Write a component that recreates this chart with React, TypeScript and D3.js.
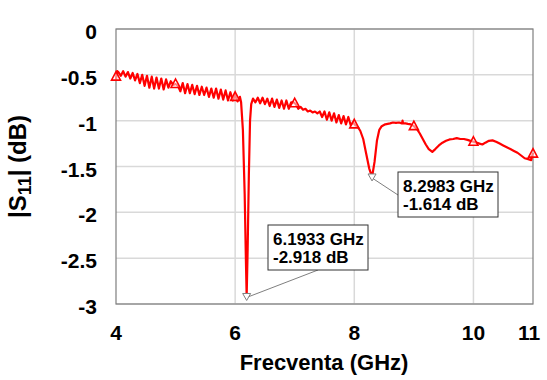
import React from "react";
import * as d3 from "d3";

const freqGHz: number[] = [
  4.0, 4.02, 4.04, 4.08, 4.12, 4.16, 4.2, 4.24, 4.28, 4.32, 4.36, 4.4, 4.44, 4.48, 4.52, 4.56, 4.6, 4.64, 4.68, 4.72, 4.76, 4.8, 4.84, 4.88, 4.92,
  4.96, 5.0, 5.04, 5.08, 5.12, 5.16, 5.2, 5.24, 5.28, 5.32, 5.36, 5.4, 5.44, 5.48, 5.52, 5.56, 5.6, 5.64, 5.68, 5.72, 5.76, 5.8, 5.84, 5.88, 5.92,
  5.96, 6.0, 6.04, 6.08, 6.1, 6.13, 6.16, 6.18, 6.1933, 6.21, 6.23, 6.25, 6.27, 6.3,
  6.34, 6.38, 6.42, 6.46, 6.5, 6.54, 6.58, 6.62, 6.66, 6.7, 6.74, 6.78, 6.82, 6.86, 6.9, 6.94, 6.98,
  7.02, 7.06, 7.1, 7.14, 7.18, 7.22, 7.26, 7.3, 7.34, 7.38, 7.42, 7.46, 7.5, 7.54, 7.58, 7.62, 7.66, 7.7, 7.74, 7.78, 7.82, 7.86, 7.9, 7.94, 7.98,
  8.02, 8.06, 8.1, 8.15, 8.2, 8.25, 8.2983, 8.34, 8.38, 8.42, 8.46, 8.52, 8.6, 8.65, 8.7, 8.75, 8.8, 8.81, 8.82, 8.86, 8.9, 8.95,
  9.0, 9.05, 9.1, 9.15, 9.2, 9.25, 9.31, 9.36, 9.42, 9.48, 9.54, 9.6, 9.66, 9.72, 9.78, 9.84, 9.9, 9.95,
  10.0, 10.05, 10.1, 10.15, 10.2, 10.26, 10.32, 10.38, 10.44, 10.5, 10.56, 10.62, 10.68, 10.74, 10.8, 10.86, 10.92, 10.97, 11.0,
];

const s11dB: number[] = [
  -0.55, -0.46, -0.47, -0.51, -0.46, -0.52, -0.47, -0.54, -0.48, -0.56, -0.49, -0.59, -0.5, -0.62, -0.51, -0.64, -0.52, -0.65, -0.53, -0.65, -0.54, -0.66, -0.55, -0.64, -0.57,
  -0.61, -0.6, -0.62, -0.68, -0.59, -0.7, -0.6, -0.7, -0.61, -0.71, -0.62, -0.72, -0.63, -0.72, -0.64, -0.74, -0.65, -0.75, -0.65, -0.76, -0.66, -0.77, -0.67, -0.78, -0.69,
  -0.78, -0.72, -0.79, -0.74, -0.8, -1.1, -1.8, -2.5, -2.918, -2.4, -1.6, -1.0, -0.82, -0.76,
  -0.8, -0.75, -0.81, -0.75, -0.82, -0.76, -0.84, -0.76, -0.85, -0.77, -0.86, -0.78, -0.87, -0.78, -0.87, -0.8, -0.8,
  -0.82, -0.87, -0.85, -0.88, -0.87, -0.9, -0.89, -0.91, -0.9, -0.92, -0.9, -0.96, -0.9, -0.99, -0.91, -1.0, -0.92, -1.02, -0.94, -1.03, -0.95, -1.04, -0.96, -1.05, -1.02,
  -1.05, -1.07, -1.11, -1.2, -1.36, -1.52, -1.614, -1.45, -1.22, -1.1, -1.06, -1.04, -1.03, -1.02, -1.025, -1.02, -1.03, -1.0, -1.03, -1.03, -1.035, -1.04,
  -1.06, -1.09, -1.14, -1.2, -1.26, -1.31, -1.34, -1.31, -1.27, -1.24, -1.22, -1.205, -1.2, -1.19, -1.2, -1.2, -1.21, -1.22,
  -1.23, -1.24, -1.25, -1.26, -1.24, -1.22, -1.215, -1.23, -1.25, -1.27, -1.29, -1.31, -1.33, -1.35, -1.38, -1.41, -1.42, -1.43, -1.35,
];

const markerFreq: number[] = [4, 5, 6, 7, 8, 9, 10, 11];
const markerDB: number[] = [-0.52, -0.6, -0.74, -0.81, -1.04, -1.06, -1.23, -1.36];

const xTicks: number[] = [4, 6, 8, 10, 11];
const yTicks: number[] = [0, -0.5, -1, -1.5, -2, -2.5, -3];
const xGrid: number[] = [6, 8, 10];

const annFreq: number[] = [6.1933, 8.2983];
const annDB: number[] = [-2.918, -1.614];
const annLine1: string[] = ["6.1933 GHz", "8.2983 GHz"];
const annLine2: string[] = ["-2.918 dB", "-1.614 dB"];

const W = 547;
const H = 380;
const L = 116;
const R = 533;
const T = 29;
const B = 304;

export default function App() {
  const x = d3.scaleLinear().domain([4, 11]).range([L, R]);
  const y = d3.scaleLinear().domain([-3, 0]).range([B, T]);
  const pts: [number, number][] = freqGHz.map((f, i) => [f, s11dB[i]]);
  const line = d3
    .line<[number, number]>()
    .x((d) => x(d[0]))
    .y((d) => y(d[1]));

  const boxes = [
    { bx: 268, by: 225, lx: 318, ly: 270 },
    { bx: 398, by: 172, lx: 398, ly: 195 },
  ];
  const font = "Arial, 'Liberation Sans', sans-serif";

  return (
    <svg
      width={W}
      height={H}
      style={{ position: "absolute", left: 0, top: 0, background: "#fff" }}
      fontFamily={font}
    >
      <rect x={0} y={0} width={W} height={H} fill="#fff" />
      {yTicks.map((t) => (
        <line key={"gy" + t} x1={L} x2={R} y1={y(t)} y2={y(t)} stroke="#d9d9d9" strokeWidth={1.5} />
      ))}
      {xGrid.map((t) => (
        <line key={"gx" + t} x1={x(t)} x2={x(t)} y1={T} y2={B} stroke="#d9d9d9" strokeWidth={1.5} />
      ))}
      <rect x={L} y={T} width={R - L} height={B - T} fill="none" stroke="#7f7f7f" strokeWidth={1.2} />

      <path d={line(pts) || ""} fill="none" stroke="#ff0000" strokeWidth={2.2} strokeLinejoin="round" />

      {markerFreq.map((f, i) => {
        const cx = x(f);
        const cy = y(markerDB[i]);
        return (
          <path
            key={"m" + f}
            d={`M${cx},${cy - 5} L${cx + 4.5},${cy + 3.5} L${cx - 4.5},${cy + 3.5} Z`}
            fill="#fff"
            fillOpacity={0.5}
            stroke="#ff0000"
            strokeWidth={1.6}
          />
        );
      })}

      {annFreq.map((f, i) => {
        const cx = x(f);
        const cy = y(annDB[i]);
        const b = boxes[i];
        return (
          <g key={"a" + i}>
            <line x1={b.lx} y1={b.ly} x2={cx} y2={cy + 1} stroke="#7f7f7f" strokeWidth={1} />
            <path
              d={`M${cx},${cy + 4} L${cx + 4},${cy - 3} L${cx - 4},${cy - 3} Z`}
              fill="#fff"
              stroke="#7f7f7f"
              strokeWidth={1}
            />
            <rect x={b.bx} y={b.by} width={100} height={45} fill="#fff" stroke="#333" strokeWidth={1} />
            <text x={b.bx + 5} y={b.by + 20} fontSize={17} fontWeight="bold" fill="#000">
              {annLine1[i]}
            </text>
            <text x={b.bx + 5} y={b.by + 38} fontSize={17} fontWeight="bold" fill="#000">
              {annLine2[i]}
            </text>
          </g>
        );
      })}

      {yTicks.map((t) => (
        <text key={"ty" + t} x={97} y={y(t) + 10} textAnchor="end" fontSize={21} fontWeight="bold" fill="#000">
          {t === 0 ? "0" : String(t)}
        </text>
      ))}
      {xTicks.map((t) => (
        <text
          key={"tx" + t}
          x={t === 11 ? x(t) - 4 : x(t)}
          y={340}
          textAnchor="middle"
          fontSize={21}
          fontWeight="bold"
          fill="#000"
        >
          {String(t)}
        </text>
      ))}

      <text x={324} y={370} textAnchor="middle" fontSize={22} fontWeight="bold" fill="#000">
        Frecventa (GHz)
      </text>
      <text
        transform={`translate(26, ${(T + B) / 2}) rotate(-90)`}
        textAnchor="middle"
        fontSize={24}
        fontWeight="bold"
        fill="#000"
      >
        |S<tspan fontSize={18} dy={5}>11</tspan>
        <tspan dy={-5}>| (dB)</tspan>
      </text>
    </svg>
  );
}
